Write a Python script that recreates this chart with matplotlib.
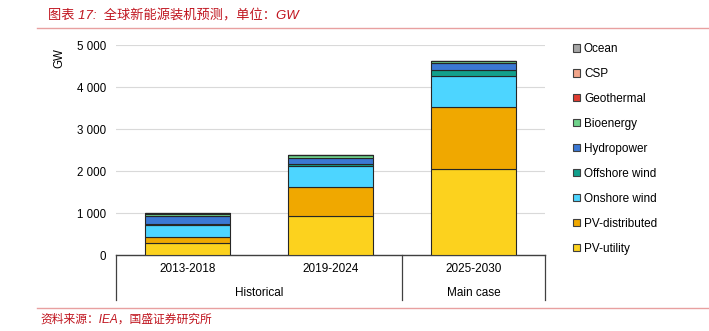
import matplotlib.pyplot as plt
from matplotlib.patches import Patch
from matplotlib.lines import Line2D

plt.rcParams['font.family'] = ['Liberation Sans', 'Noto Sans CJK SC', 'DejaVu Sans']

# data (GW)
periods = ['2013-2018', '2019-2024', '2025-2030']
groups = ['Historical', 'Main case']
series = ['PV-utility', 'PV-distributed', 'Onshore wind', 'Offshore wind',
          'Hydropower', 'Bioenergy', 'Geothermal', 'CSP', 'Ocean']
pv_utility = [290, 930, 2050]
pv_distributed = [130, 700, 1480]
onshore_wind = [290, 500, 740]
offshore_wind = [20, 40, 135]
hydropower = [200, 150, 160]
bioenergy = [55, 50, 45]
geothermal = [5, 5, 6]
csp = [4, 4, 5]
ocean = [1, 1, 2]
values = [pv_utility, pv_distributed, onshore_wind, offshore_wind,
          hydropower, bioenergy, geothermal, csp, ocean]
colors = ['#fcd21e', '#f0a800', '#4dd5ff', '#12a08c', '#3b78d4',
          '#6fd38b', '#e03c31', '#f2a58a', '#a6a6a6']

fig = plt.figure(figsize=(7.09, 3.31), dpi=100)
ax = fig.add_axes([116 / 709, 1 - 255 / 331, 429 / 709, 210 / 331])

x = range(len(periods))
bottom = [0] * len(periods)
for name, vals, c in zip(series, values, colors):
    ax.bar(x, vals, width=0.59, bottom=bottom, color=c, edgecolor='#262626',
           linewidth=0.8, label=name, zorder=3)
    bottom = [b + v for b, v in zip(bottom, vals)]

ax.set_xlim(-0.5, 2.5)
ax.set_ylim(0, 5000)
ax.set_yticks(range(0, 5001, 1000))
ax.set_yticklabels(['0', '1 000', '2 000', '3 000', '4 000', '5 000'], fontsize=8.3)
ax.yaxis.grid(True, color='#d9d9d9', linewidth=0.8, zorder=0)
ax.tick_params(axis='y', length=0, pad=7)
ax.set_xticks(list(x))
ax.set_xticklabels(periods, fontsize=8.5)
ax.tick_params(axis='x', length=0, pad=6)
for s in ['top', 'right', 'left']:
    ax.spines[s].set_visible(False)
ax.spines['bottom'].set_color('#404040')
ax.spines['bottom'].set_linewidth(1.0)

# two-level category separators
trans = ax.get_xaxis_transform()
for xv in [-0.5, 1.5, 2.5]:
    ax.plot([xv, xv], [0, -45 / 210], transform=trans, color='#404040',
            linewidth=0.9, clip_on=False)
ax.text(0.5, -38 / 210, groups[0], transform=trans, ha='center', va='center', fontsize=8.5)
ax.text(2.0, -38 / 210, groups[1], transform=trans, ha='center', va='center', fontsize=8.5)

fig.text(59 / 709, 1 - 58 / 331, 'GW', rotation=90, ha='center', va='center', fontsize=8.3)

# legend
handles = [Patch(facecolor=c, edgecolor='#404040', linewidth=0.8, label=n)
           for n, c in zip(series, colors)][::-1]
fig.legend(handles=handles, loc='upper left', bbox_to_anchor=(568 / 709, 1 - 38 / 331),
           frameon=False, fontsize=8.5, handlelength=0.65, handleheight=0.65,
           handletextpad=0.3, labelspacing=1.1, borderaxespad=0)

# title and source
red = '#c0141e'
fig.text(48 / 709, 1 - 16 / 331, '图表 17:  全球新能源装机预测，单位：GW', color=red,
         fontsize=9.5, style='italic', ha='left', va='center')
fig.add_artist(Line2D([37 / 709, 1], [1 - 28 / 331] * 2, color='#e8a0a0', linewidth=1))
fig.add_artist(Line2D([37 / 709, 1], [1 - 308 / 331] * 2, color='#e8a0a0', linewidth=1))
fig.text(40 / 709, 1 - 320 / 331, '资料来源：IEA，国盛证券研究所', color=red,
         fontsize=8.5, style='italic', ha='left', va='center')

fig.savefig('out.png', dpi=100)
